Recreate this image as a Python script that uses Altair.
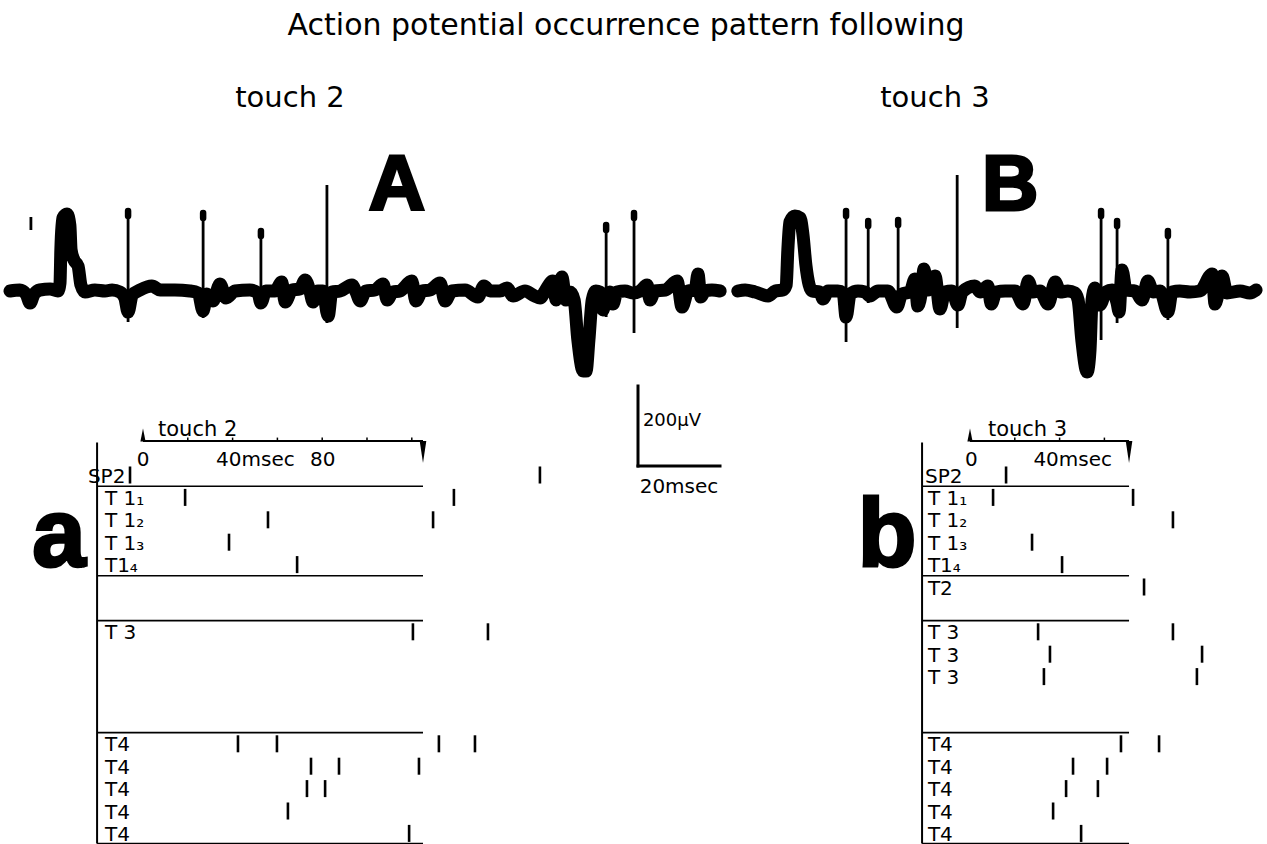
import altair as alt
import pandas as pd

FONT = "DejaVu Sans"
BOLD_FONT = "Liberation Sans"

# ---------------------------------------------------------------------------
# Extracellular recordings: time in ms, potential in µV
# ---------------------------------------------------------------------------
TRACE_A_MS = [0, 2.4, 3.9, 4.9, 5.9, 7.3, 9.8, 11.7, 12.2, 12.4,
              12.9, 13.9, 14.6, 14.9, 15.6, 16.6, 17.3, 18.3, 20.7, 23.2,
              24.9, 26.8, 28.0, 28.8, 29.8, 31.7, 34.6, 36.6, 40.2, 43.9,
              45.9, 47.1, 48.0, 49.5, 51.2, 52.7, 54.9, 58.5, 60.5, 61.2,
              62.4, 64.6, 66.3, 67.1, 68.8, 70.7, 72.0, 73.2, 73.9, 75.1,
              76.3, 77.6, 78.5, 80.5, 83.4, 84.4, 85.4, 86.8, 89.0, 91.0,
              92.0, 93.4, 95.1, 98.0, 99.0, 100.5, 102.4, 104.9, 106.1, 107.8,
              111.0, 114.1, 115.6, 117.1, 119.5, 121.2, 122.7, 125.6, 128.0, 129.3,
              130.5, 132.4, 133.2, 134.6, 135.6, 136.6, 137.6, 138.5, 139.8, 140.5,
              141.2, 142.0, 142.9, 143.9, 144.6, 145.4, 146.3, 147.1, 148.0, 150.0,
              151.9, 153.7, 155.4, 156.1, 157.3, 159.8, 162.7, 163.9, 165.4, 167.1,
              167.8, 168.5, 169.5, 171.2, 173.2]
TRACE_A_UV = [0, 2.5, -7.5, -30, -7.5, 2.5, 5, 0, 20, 102.5,
              182.5, 192.5, 165, 102.5, 77.5, 62.5, 15, -2.5, 2.5, 0,
              2.5, -2.5, -17.5, -52.5, -10, 2.5, 12.5, 2.5, 2.5, 0,
              -5, -50, -7.5, -25, 17.5, -17.5, 0, 2.5, -5, -30,
              0, 0, 22.5, -27.5, 2.5, 5, 27.5, -2.5, -27.5, 0,
              0, -62.5, -2.5, 0, 15, -2.5, -25, 0, 2.5, 17.5,
              -22.5, -2.5, 0, 25, -25, 0, 2.5, 20, -25, 0,
              2.5, -15, 12.5, 0, 0, 7.5, -12.5, 0, -12.5, -17.5,
              0, 25, -22.5, 35, -22.5, -2.5, -22.5, -122.5, -200, -200,
              -122.5, -22.5, 0, -2.5, -47.5, -17.5, -2.5, -32.5, -2.5, 0,
              -5, 0, 15, -22.5, 0, 2.5, 25, -40, 0, 2.5,
              42.5, -15, 0, 2.5, 0]

SPIKE_A_MS = [5.1, 28.8, 47.1, 61.2, 77.3, 145.4, 152.2]
SPIKE_A_TOP = [185, 207.5, 202.5, 157.5, 265, 172.5, 202.5]
SPIKE_A_BOTTOM = [152.5, -77.5, -67.5, -22.5, -80, -65, -105]
SPIKE_A_BLOB = [False, True, True, True, False, True, True]

TRACE_B_MS = [0.2, 2.0, 4.4, 7.6, 9.3, 11.2, 12.0, 12.4, 12.9, 14.1,
              15.4, 16.1, 16.8, 17.6, 18.3, 20.2, 21.0, 22.2, 24.6, 25.9,
              26.6, 27.6, 29.5, 31.2, 32.4, 34.4, 36.8, 39.0, 40.2, 42.2,
              43.4, 44.1, 45.1, 45.6, 46.6, 48.3, 49.5, 50.7, 52.4, 53.9,
              54.9, 58.0, 59.3, 61.2, 62.0, 63.2, 65.4, 67.8, 69.8, 71.0,
              72.2, 73.9, 75.9, 77.6, 78.8, 80.7, 82.4, 83.2, 84.1, 85.4,
              86.1, 86.6, 87.3, 88.5, 90.0, 91.5, 92.7, 93.2, 93.9, 94.9,
              97.1, 98.8, 100.2, 101.5, 103.2, 105.1, 106.1, 108.0, 110.5, 112.9,
              115.9, 116.6, 118.3, 119.5, 122.7, 125.1, 126.6]
TRACE_B_UV = [0, 2.5, -2.5, -12.5, 0, 2.5, 15, 102.5, 172.5, 187.5,
              182.5, 140, 65, 15, 0, -2.5, -20, 0, 0, -5,
              -65, -7.5, 0, -2.5, -12.5, 0, 0, -40, -7.5, -2.5,
              30, -37.5, 7.5, 55, 2.5, 37.5, -45, -2.5, 0, -35,
              -2.5, 12.5, -2.5, 12.5, -32.5, -2.5, 0, 0, -32.5, 25,
              -2.5, 0, -32.5, 22.5, -2.5, 0, -5, -22.5, -122.5, -202.5,
              -147.5, -22.5, 7.5, -35, -2.5, 2.5, -30, -52.5, 52.5, 2.5,
              0, -22.5, 25, -2.5, 0, -52.5, -2.5, 0, -2.5, 0,
              42.5, -32.5, 37.5, -5, 0, -5, 2.5]

SPIKE_B_MS = [26.6, 32.0, 39.3, 53.7, 88.8, 92.7, 105.1]
SPIKE_B_TOP = [207.5, 182.5, 185, 290, 207.5, 182.5, 157.5]
SPIKE_B_BOTTOM = [-127.5, -30, -55, -92.5, -122.5, -80, -72.5]
SPIKE_B_BLOB = [True, True, True, False, True, True, True]

# ---------------------------------------------------------------------------
# Spike rasters: row index (0 = SP2, then sweeps) and spike time in ms
# ---------------------------------------------------------------------------
RASTER_A_ROW = [0, 0, 1, 1, 2, 2, 3, 4, 7, 7, 12, 12, 12, 12, 13, 13, 13, 14, 14, 15, 16]
RASTER_A_MS = [-5.8, 177.2, 18.8, 138.8, 55.8, 129.5, 38.4, 68.8, 120.5, 154.0,
               42.4, 59.8, 132.1, 148.2, 75.0, 87.5, 123.2, 73.2, 81.3, 64.7, 118.8]
LABELS_A = ["SP2", "T 1₁", "T 1₂", "T 1₃", "T1₄", "T 3", "T4", "T4", "T4", "T4", "T4"]
LABEL_ROWS_A = [0, 1, 2, 3, 4, 7, 12, 13, 14, 15, 16]
TOUCH_A_END_MS = 125
TICK_TEXT_A = ["0", "40msec", "80"]
TICK_TEXT_A_MS = [-2.8, 32.6, 74.6]

RASTER_B_ROW = [0, 1, 1, 2, 3, 4, 5, 7, 7, 8, 8, 9, 9, 12, 12, 13, 13, 14, 14, 15, 16]
RASTER_B_MS = [16.1, 10.3, 72.8, 90.6, 27.7, 41.1, 77.7, 30.4, 90.6, 35.7, 103.6,
               33.0, 101.3, 67.4, 84.4, 46.0, 61.2, 42.9, 57.1, 37.1, 49.6]
LABELS_B = ["SP2", "T 1₁", "T 1₂", "T 1₃", "T1₄", "T2", "T 3", "T 3", "T 3",
            "T4", "T4", "T4", "T4", "T4"]
LABEL_ROWS_B = [0, 1, 2, 3, 4, 5, 7, 8, 9, 12, 13, 14, 15, 16]
TOUCH_B_END_MS = 71
TICK_TEXT_B = ["0", "40msec"]
TICK_TEXT_B_MS = [-2.2, 28.3]

SEPARATOR_ROWS = [0.5, 4.5, 6.5, 11.5, 16.45]
TOUCH_TICKS_MS = [20, 40, 60, 80, 100, 120]

SCALE_MS = 20
SCALE_UV = 200

# ---------------------------------------------------------------------------
# Layout (pixels) and scale geometry
# ---------------------------------------------------------------------------
HEADER_H = 140
TRACE_H = 243
RASTER_H = 461
TRACE_UV_DOMAIN = [-230, 377.5]          # 0.4 px per µV
RASTER_ROW_DOMAIN = [-4.0625, 16.5179]   # 22.4 px per row
TOUCH_ROW = -1.52


def lin(domain, reverse=False):
    if reverse:
        return alt.Scale(domain=domain, nice=False, zero=False, reverse=True)
    return alt.Scale(domain=domain, nice=False, zero=False)


def trace_panel(ms, uv, s_ms, s_top, s_bot, s_blob, letter, letter_ms, x_domain, width):
    xs = lin(x_domain)
    ys = lin(TRACE_UV_DOMAIN)

    def X(f):
        return alt.X(f, type="quantitative", scale=xs, axis=None)

    def Y(f):
        return alt.Y(f, type="quantitative", scale=ys, axis=None)

    band = alt.Chart(pd.DataFrame({"t": ms, "v": uv})).mark_line(
        color="black", strokeWidth=13, strokeJoin="round", strokeCap="round",
        interpolate="monotone"
    ).encode(x=X("t"), y=Y("v"))

    sdf = pd.DataFrame({"t": s_ms, "top": s_top, "bottom": s_bot, "blob": s_blob})
    spikes = alt.Chart(sdf).mark_rule(color="black", strokeWidth=2.8).encode(
        x=X("t"), y=Y("bottom"), y2="top:Q")
    blobs = alt.Chart(sdf).transform_filter("datum.blob").transform_calculate(
        b_hi="datum.top - 7.5", b_lo="datum.top - 20"
    ).mark_rule(color="black", strokeWidth=6.5, strokeCap="round").encode(
        x=X("t"), y=Y("b_lo"), y2="b_hi:Q")

    big = alt.Chart(pd.DataFrame({"t": [letter_ms], "v": [202.5], "s": [letter]})).mark_text(
        font=BOLD_FONT, fontWeight="bold", fontSize=78, align="center",
        baseline="alphabetic", color="black", stroke="black", strokeWidth=3
    ).encode(x=X("t"), y=Y("v"), text="s:N")

    return alt.layer(band, spikes, blobs, big).properties(width=width, height=TRACE_H)


def raster_panel(rows, times, labels, label_rows, touch_end, touch_text, tick_texts,
                 tick_ms, letter, x_domain, width, frame_ms, label_ms, sp2_ms,
                 touch_text_ms, letter_ms):
    xs = lin(x_domain)
    ys = lin(RASTER_ROW_DOMAIN, reverse=True)

    def X(f):
        return alt.X(f, type="quantitative", scale=xs, axis=None)

    def Y(f):
        return alt.Y(f, type="quantitative", scale=ys, axis=None)

    frame = alt.Chart(pd.DataFrame({"t": [frame_ms], "r0": [-1.45], "r1": [16.45]})).mark_rule(
        color="black", strokeWidth=2).encode(x=X("t"), y=Y("r0"), y2="r1:Q")

    seps = alt.Chart(pd.DataFrame({"r": SEPARATOR_ROWS})).transform_calculate(
        t0=str(frame_ms), t1=str(touch_end)
    ).mark_rule(color="black", strokeWidth=1.6).encode(x=X("t0"), x2="t1:Q", y=Y("r"))

    axis_line = alt.Chart(pd.DataFrame({"t0": [0], "t1": [touch_end], "r": [TOUCH_ROW]})).mark_rule(
        color="black", strokeWidth=2).encode(x=X("t0"), x2="t1:Q", y=Y("r"))

    ticks = alt.Chart(pd.DataFrame({"t": [t for t in TOUCH_TICKS_MS if t < touch_end]})).transform_calculate(
        r0=str(TOUCH_ROW), r1=str(TOUCH_ROW - 0.15)
    ).mark_rule(color="black", strokeWidth=1.5).encode(x=X("t"), y=Y("r0"), y2="r1:Q")

    up = alt.Chart(pd.DataFrame({"t": [0], "r": [-1.786]})).mark_point(
        shape="M-0.4,1L0,-1L0.4,1Z", size=169, filled=True, color="black", opacity=1,
        strokeWidth=0).encode(x=X("t"), y=Y("r"))
    down = alt.Chart(pd.DataFrame({"t": [touch_end], "r": [-1.027]})).mark_point(
        shape="M-0.3,-1L0.3,-1L0,1Z", size=484, filled=True, color="black", opacity=1,
        strokeWidth=0).encode(x=X("t"), y=Y("r"))

    tick_lab = alt.Chart(pd.DataFrame({"t": tick_ms, "s": tick_texts})).transform_calculate(
        r="-0.42").mark_text(font=FONT, fontSize=20, align="left", baseline="alphabetic",
                             color="black").encode(x=X("t"), y=Y("r"), text="s:N")

    touch_lab = alt.Chart(pd.DataFrame({"t": [touch_text_ms], "r": [-1.72], "s": [touch_text]})).mark_text(
        font=FONT, fontSize=21, align="left", baseline="alphabetic", color="black"
    ).encode(x=X("t"), y=Y("r"), text="s:N")

    lab_df = pd.DataFrame({
        "s": labels,
        "row": label_rows,
        "t": [sp2_ms if s == "SP2" else label_ms for s in labels],
    })
    row_lab = alt.Chart(lab_df).transform_calculate(r="datum.row + 0.335").mark_text(
        font=FONT, fontSize=20, align="left", baseline="alphabetic", color="black"
    ).encode(x=X("t"), y=Y("r"), text="s:N")

    spikes = alt.Chart(pd.DataFrame({"t": times, "row": rows})).transform_calculate(
        lo="datum.row - 0.38", hi="datum.row + 0.38"
    ).mark_rule(color="black", strokeWidth=2.6).encode(x=X("t"), y=Y("lo"), y2="hi:Q")

    big = alt.Chart(pd.DataFrame({"t": [letter_ms], "r": [4.06], "s": [letter]})).mark_text(
        font=BOLD_FONT, fontWeight="bold", fontSize=96, align="center",
        baseline="alphabetic", color="black", stroke="black", strokeWidth=3
    ).encode(x=X("t"), y=Y("r"), text="s:N")

    return alt.layer(frame, seps, axis_line, ticks, up, down, tick_lab, touch_lab,
                     row_lab, spikes, big).properties(width=width, height=RASTER_H)


def scale_bar_panel(x_domain, width):
    xs = lin(x_domain)
    ys = lin([-947.5, 205])

    def X(f):
        return alt.X(f, type="quantitative", scale=xs, axis=None)

    def Y(f):
        return alt.Y(f, type="quantitative", scale=ys, axis=None)

    vert = alt.Chart(pd.DataFrame({"t": [0], "v0": [0], "v1": [SCALE_UV]})).mark_rule(
        color="black", strokeWidth=3, strokeCap="square").encode(x=X("t"), y=Y("v0"), y2="v1:Q")
    horiz = alt.Chart(pd.DataFrame({"t0": [0], "t1": [SCALE_MS], "v": [0]})).mark_rule(
        color="black", strokeWidth=3, strokeCap="square").encode(x=X("t0"), x2="t1:Q", y=Y("v"))
    uv_lab = alt.Chart(pd.DataFrame({"t": [1.2], "v": [SCALE_UV / 2], "s": [f"{SCALE_UV}µV"]})).mark_text(
        font=FONT, fontSize=18, align="left", baseline="alphabetic", color="black"
    ).encode(x=X("t"), y=Y("v"), text="s:N")
    ms_lab = alt.Chart(pd.DataFrame({"t": [SCALE_MS / 2], "v": [-67.5], "s": [f"{SCALE_MS}msec"]})).mark_text(
        font=FONT, fontSize=20, align="center", baseline="alphabetic", color="black"
    ).encode(x=X("t"), y=Y("v"), text="s:N")
    return alt.layer(vert, horiz, uv_lab, ms_lab).properties(width=width, height=RASTER_H)


def header_panel():
    def txt(s, px, py, size):
        return alt.Chart(pd.DataFrame({"s": [s]})).mark_text(
            font=FONT, fontSize=size, align="center", baseline="alphabetic", color="black"
        ).encode(text="s:N", x=alt.value(px), y=alt.value(py))

    return alt.layer(
        txt("Action potential occurrence pattern following", 626, 35, 30),
        txt("touch 2", 290, 107, 29),
        txt("touch 3", 935, 107, 29),
    ).properties(width=1267, height=HEADER_H)


trace_a = trace_panel(TRACE_A_MS, TRACE_A_UV, SPIKE_A_MS, SPIKE_A_TOP, SPIKE_A_BOTTOM,
                      SPIKE_A_BLOB, "A", 94.4, [-2.439, 175.122], 728)
trace_b = trace_panel(TRACE_B_MS, TRACE_B_UV, SPIKE_B_MS, SPIKE_B_TOP, SPIKE_B_BOTTOM,
                      SPIKE_B_BLOB, "B", 66.6, [-2.195, 129.268], 539)

raster_a = raster_panel(RASTER_A_ROW, RASTER_A_MS, LABELS_A, LABEL_ROWS_A, TOUCH_A_END_MS,
                        "touch 2", TICK_TEXT_A, TICK_TEXT_A_MS, "a",
                        [-63.839, 204.018], 600, -20.5, -17.0, -24.6, 6.7, -37.5)
scale_bar = scale_bar_panel([-9.268, 24.878], 140)
raster_b = raster_panel(RASTER_B_ROW, RASTER_B_MS, LABELS_B, LABEL_ROWS_B, TOUCH_B_END_MS,
                        "touch 3", TICK_TEXT_B, TICK_TEXT_B_MS, "b",
                        [-102.679, 132.589], 527, -21.4, -18.8, -20.1, 8.0, -37.0)

top_row = alt.hconcat(trace_a, trace_b, spacing=0)
bottom_row = alt.hconcat(raster_a, scale_bar, raster_b, spacing=0)

chart = alt.vconcat(header_panel(), top_row, bottom_row, spacing=0).properties(
    padding=0, background="white"
).configure_view(stroke=None)

chart.save("out.html", embed_options={"renderer": "svg", "actions": False})
